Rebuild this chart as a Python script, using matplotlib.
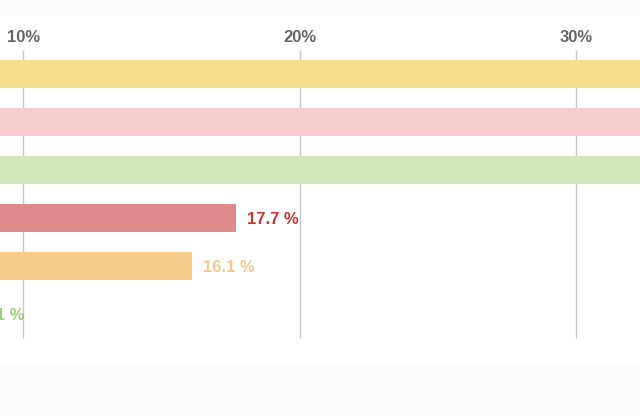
import matplotlib.pyplot as plt

# values (top three run past the visible edge, estimated)
values = [38.5, 36.0, 34.0, 17.7, 16.1, 8.1]
bar_colors = ["#f5df8c", "#f7cdd0", "#d2e6bb", "#df8a8d", "#f7cb8a", "#d2e6bb"]
label_colors = ["#e0b030", "#e89aa0", "#9ccc80", "#cc3333", "#f5c98a", "#9ccc80"]
ticks = [10, 20, 30]
tick_labels = ["10%", "20%", "30%"]

plt.rcParams['font.family'] = ['Liberation Sans', 'DejaVu Sans']

fig = plt.figure(figsize=(6.4, 4.16), dpi=100, facecolor="#fcfcfc")
ax = fig.add_axes([0, 51/416, 1, 348/416])
ax.set_facecolor("white")
xmin, xmax = 9.15, 32.3
ax.set_xlim(xmin, xmax)
ax.set_ylim(6.0625, -1.1875)
for s in ax.spines.values():
    s.set_visible(False)
ax.set_xticks([])
ax.set_yticks([])

ypos = list(range(len(values)))
ax.vlines(ticks, -0.5, 5.5, color="#c8c8c8", linewidth=1, zorder=0)
for t, lab in zip(ticks, tick_labels):
    ax.text(t, -0.77, lab, ha="center", va="center", fontsize=12,
            fontweight="bold", color="#666666")

ax.barh(ypos, values, height=0.57, color=bar_colors, zorder=2)
for y, v, c in zip(ypos, values, label_colors):
    if v + 0.4 > xmax:
        continue  # label lies beyond the cropped right edge
    ax.text(v + 0.4, y + 0.03, f"{v:.1f} %", ha="left", va="center", fontsize=12,
            fontweight="bold", color=c, zorder=3)

fig.savefig("out.png", dpi=100, facecolor=fig.get_facecolor())
